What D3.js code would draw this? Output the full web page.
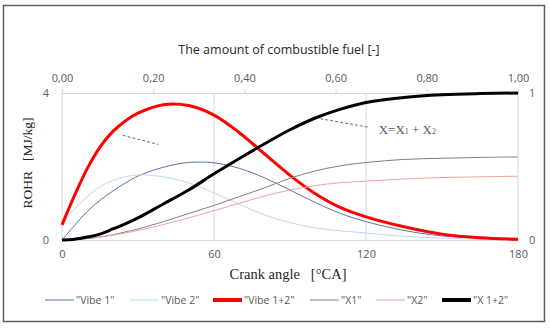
<!DOCTYPE html>
<html>
<head>
<meta charset="utf-8">
<script src="https://cdn.jsdelivr.net/npm/d3@7"></script>
<style>
    body { margin: 0; background: #fff; }
    svg { display: block; }
    .tick text { fill: #595959; font-family: "Open Sans", "Noto Sans", sans-serif; font-size: 11px; }
</style>
</head>
<body>
<svg id="chart" width="550" height="328"></svg>
<script>
"use strict";

// crank angle [deg CA]
var angles = [0, 5, 10, 15, 20, 25, 30, 40, 50, 60, 70, 80, 90, 100, 110, 120, 135, 150, 165, 180];
// rate of heat release [MJ/kg]
var vibe1 = [0, 0.40, 0.78, 1.08, 1.33, 1.55, 1.74, 1.98, 2.11, 2.10, 1.95, 1.69, 1.36, 1.02, 0.72, 0.50, 0.26, 0.11, 0.04, 0.01];
var vibe2 = [0.41, 0.85, 1.18, 1.45, 1.62, 1.72, 1.77, 1.72, 1.55, 1.28, 0.97, 0.68, 0.47, 0.33, 0.25, 0.19, 0.10, 0.05, 0.02, 0.01];
var vibe12 = [0.41, 1.22, 1.95, 2.53, 2.95, 3.24, 3.45, 3.68, 3.66, 3.40, 2.92, 2.34, 1.76, 1.26, 0.88, 0.63, 0.36, 0.16, 0.06, 0.02];
// fraction of burnt fuel [-]
var x1 = [0, 0.002, 0.01, 0.02, 0.035, 0.055, 0.075, 0.125, 0.18, 0.235, 0.295, 0.355, 0.42, 0.47, 0.505, 0.527, 0.548, 0.556, 0.562, 0.565];
var x2 = [0, 0.003, 0.01, 0.02, 0.033, 0.048, 0.065, 0.105, 0.15, 0.20, 0.25, 0.30, 0.34, 0.37, 0.39, 0.40, 0.415, 0.425, 0.43, 0.434];
var x12 = [0, 0.005, 0.02, 0.04, 0.075, 0.11, 0.15, 0.245, 0.34, 0.45, 0.555, 0.655, 0.75, 0.83, 0.89, 0.935, 0.97, 0.988, 0.996, 1.0];

var angleTicks = [0, 60, 120, 180];
var rohrTicks = [0, 4];
var fuelTicks = [0, 0.2, 0.4, 0.6, 0.8, 1.0];
var fracTicks = [0, 1];

var series = [
    {name: "\"Vibe 1\"", vals: vibe1, axis: "left", color: "#5873a6", width: 1},
    {name: "\"Vibe 2\"", vals: vibe2, axis: "left", color: "#c3d5ef", width: 1},
    {name: "\"Vibe 1+2\"", vals: vibe12, axis: "left", color: "#ff0000", width: 3},
    {name: "\"X1\"", vals: x1, axis: "right", color: "#808080", width: 1},
    {name: "\"X2\"", vals: x2, axis: "right", color: "#e8a3a3", width: 1},
    {name: "\"X 1+2\"", vals: x12, axis: "right", color: "#000000", width: 3}
];

// dashed pointer lines, in data units [angle, rohr]
var pointers = [
    {from: [24, 2.85], to: [38, 2.6]},
    {from: [102, 3.3], to: [121, 3.07]}
];

var m = {left: 62, right: 32, top: 93, bottom: 88};
var svg = d3.select("#chart");
var W = +svg.attr("width"), H = +svg.attr("height");

var x = d3.scaleLinear().domain([0, 180]).range([m.left, W - m.right]);
var xTop = d3.scaleLinear().domain([0, 1]).range(x.range());
var y = d3.scaleLinear().domain([0, 4]).range([H - m.bottom, m.top]);
var yR = d3.scaleLinear().domain([0, 1]).range(y.range());

// outer frame
svg.append("rect")
    .attr("x", 3.5).attr("y", 5.5)
    .attr("width", 541).attr("height", 316)
    .attr("fill", "none").attr("stroke", "#5f5f5f").attr("stroke-width", 1.5);

// vertical gridlines
svg.append("g").selectAll("line")
    .data(angleTicks)
    .join("line")
    .attr("x1", function (d) { return x(d); })
    .attr("x2", function (d) { return x(d); })
    .attr("y1", y(4)).attr("y2", y(0))
    .attr("stroke", "#d9d9d9");

function styleAxis(g) {
    g.select(".domain").attr("stroke", "#d9d9d9");
    g.selectAll(".tick line").attr("stroke", "#d9d9d9");
}

svg.append("g")
    .attr("transform", "translate(0," + y(0) + ")")
    .call(d3.axisBottom(x).tickValues(angleTicks).tickSize(0).tickPadding(10))
    .call(styleAxis);

svg.append("g")
    .attr("transform", "translate(0," + y(4) + ")")
    .call(d3.axisTop(xTop).tickValues(fuelTicks).tickSize(4).tickPadding(7)
        .tickFormat(function (d) { return d3.format(".2f")(d).replace(".", ","); }))
    .call(styleAxis);

svg.append("g")
    .attr("transform", "translate(" + x(0) + ",0)")
    .call(d3.axisLeft(y).tickValues(rohrTicks).tickSize(0).tickPadding(13)
        .tickFormat(d3.format("d")))
    .call(function (g) { g.select(".domain").remove(); });

svg.append("g")
    .attr("transform", "translate(" + x(180) + ",0)")
    .call(d3.axisRight(yR).tickValues(fracTicks).tickSize(0).tickPadding(11)
        .tickFormat(d3.format("d")))
    .call(function (g) { g.select(".domain").remove(); });

// curves
series.forEach(function (s) {
    var ys = s.axis === "left" ? y : yR;
    var line = d3.line()
        .curve(d3.curveCatmullRom.alpha(0.5))
        .x(function (d, i) { return x(angles[i]); })
        .y(function (d) { return ys(d); });
    svg.append("path")
        .datum(s.vals)
        .attr("d", line)
        .attr("fill", "none")
        .attr("stroke", s.color)
        .attr("stroke-width", s.width);
});

// pointers + label
svg.append("g").selectAll("line")
    .data(pointers)
    .join("line")
    .attr("x1", function (d) { return x(d.from[0]); })
    .attr("y1", function (d) { return y(d.from[1]); })
    .attr("x2", function (d) { return x(d.to[0]); })
    .attr("y2", function (d) { return y(d.to[1]); })
    .attr("stroke", "#6d6d6d")
    .attr("stroke-dasharray", "3,2");

var lab = svg.append("text")
    .attr("x", x(125)).attr("y", y(2.88))
    .attr("fill", "#595959")
    .style("font-family", "'Liberation Serif', serif")
    .style("font-size", "13px");
lab.append("tspan").text("X=X");
lab.append("tspan").text("1").style("font-size", "8px");
lab.append("tspan").text(" + X");
lab.append("tspan").text("2").style("font-size", "8px");

// titles
svg.append("text")
    .attr("x", 279).attr("y", 54)
    .attr("text-anchor", "middle")
    .attr("fill", "#262626")
    .style("font-family", "'Open Sans', sans-serif")
    .style("font-size", "12.5px")
    .text("The amount of combustible fuel [-]");

svg.append("text")
    .attr("x", 288).attr("y", 279)
    .attr("text-anchor", "middle")
    .attr("fill", "#262626")
    .style("font-family", "'Liberation Serif', serif")
    .style("font-size", "14.5px")
    .style("white-space", "pre")
    .text("Crank angle   [\u00b0CA]");

svg.append("text")
    .attr("transform", "translate(32,163) rotate(-90)")
    .attr("text-anchor", "middle")
    .attr("fill", "#262626")
    .style("font-family", "'Liberation Serif', serif")
    .style("font-size", "13.5px")
    .style("white-space", "pre")
    .text("ROHR   [MJ/kg]");

// legend
var legX = [45, 130, 213, 310, 376, 442];
var leg = svg.append("g").selectAll("g")
    .data(series)
    .join("g")
    .attr("transform", function (d, i) { return "translate(" + legX[i] + ",300)"; });
leg.append("line")
    .attr("x1", 0).attr("x2", 29)
    .attr("stroke", function (d) { return d.color; })
    .attr("stroke-width", function (d) { return d.width === 3 ? 4 : 1; });
leg.append("text")
    .attr("x", 31).attr("y", 4)
    .attr("fill", "#595959")
    .style("font-family", "'Open Sans', sans-serif")
    .style("font-size", "10.5px")
    .text(function (d) { return d.name; });
</script>
</body>
</html>
